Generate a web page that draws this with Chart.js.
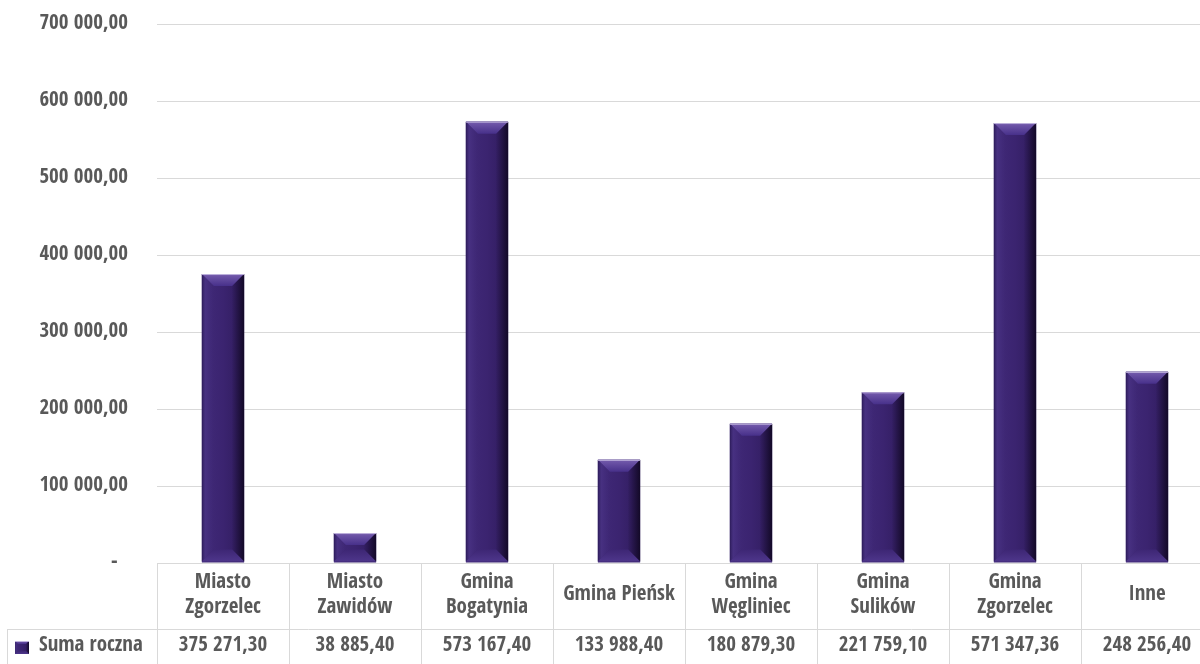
<!DOCTYPE html>
<html>
<head>
<meta charset="utf-8">
<script src="https://cdn.jsdelivr.net/npm/chart.js@4.4.1/dist/chart.umd.min.js"></script>
<style>
  html, body { margin: 0; padding: 0; background: #fff; overflow: hidden; }
  #wrap { position: relative; width: 1213px; height: 664px; }
</style>
</head>
<body>
<div id="wrap"><canvas id="chart"></canvas></div>
<script>
const categories = [
  ['Miasto', 'Zgorzelec'],
  ['Miasto', 'Zawidów'],
  ['Gmina', 'Bogatynia'],
  ['Gmina Pieńsk'],
  ['Gmina', 'Węgliniec'],
  ['Gmina', 'Sulików'],
  ['Gmina', 'Zgorzelec'],
  ['Inne']
];
const sumaRoczna = [375271.30, 38885.40, 573167.40, 133988.40, 180879.30, 221759.10, 571347.36, 248256.40];
const seriesName = 'Suma roczna';
const yTicks = [0, 100000, 200000, 300000, 400000, 500000, 600000, 700000];

const FONT = '"Open Sans Condensed", "Open Sans", sans-serif';
const TXT = '#595959';
const LINE = '#d9d9d9';
const BAR = '#3b2470';

const fmtPl = (v) => {
  const [i, d] = Number(v).toFixed(2).split('.');
  return i.replace(/\B(?=(\d{3})+(?!\d))/g, ' ') + ',' + d;
};

// bevelled face for a box (bars and the legend key)
function bevelBox(ctx, x0, x1, top, bottom, size) {
  const w = x1 - x0, h = bottom - top;
  const b = Math.min(size, w / 2, h / 2);
  const face = ctx.createLinearGradient(x0, 0, x1, 0);
  face.addColorStop(0, '#412a79');
  face.addColorStop(0.5, '#3b2470');
  face.addColorStop(1, '#2f1b5c');
  ctx.fillStyle = face;
  ctx.fillRect(x0, top, w, h);

  const poly = (pts, fill) => {
    ctx.beginPath();
    ctx.moveTo(pts[0][0], pts[0][1]);
    for (let k = 1; k < pts.length; k++) ctx.lineTo(pts[k][0], pts[k][1]);
    ctx.closePath();
    ctx.fillStyle = fill;
    ctx.fill();
  };
  const topG = ctx.createLinearGradient(0, top, 0, top + b);
  topG.addColorStop(0, '#755cad');
  topG.addColorStop(1, '#47308a');
  poly([[x0, top], [x1, top], [x1 - b, top + b], [x0 + b, top + b]], topG);
  const leftG = ctx.createLinearGradient(x0, 0, x0 + b, 0);
  leftG.addColorStop(0, 'rgba(40,24,84,0.9)');
  leftG.addColorStop(0.3, 'rgba(78,56,138,0.5)');
  leftG.addColorStop(1, 'rgba(70,48,130,0)');
  poly([[x0, top], [x0 + b, top + b], [x0 + b, bottom - b], [x0, bottom]], leftG);
  const rightG = ctx.createLinearGradient(x1, 0, x1 - b, 0);
  rightG.addColorStop(0, 'rgba(14,6,30,0.85)');
  rightG.addColorStop(1, 'rgba(20,10,40,0.05)');
  poly([[x1, top], [x1 - b, top + b], [x1 - b, bottom - b], [x1, bottom]], rightG);
  const botG = ctx.createLinearGradient(0, bottom - b, 0, bottom);
  botG.addColorStop(0, '#3d2674');
  botG.addColorStop(1, '#4e368b');
  poly([[x0, bottom], [x1, bottom], [x1 - b, bottom - b], [x0 + b, bottom - b]], botG);

  ctx.fillStyle = 'rgba(200,188,226,0.9)';
  ctx.fillRect(x0, top, w, 1);
}

const bevelPlugin = {
  id: 'bevel',
  afterDatasetsDraw(chart) {
    const ctx = chart.ctx;
    const meta = chart.getDatasetMeta(0);
    ctx.save();
    meta.data.forEach(bar => {
      const x0 = bar.x - bar.width / 2, x1 = bar.x + bar.width / 2;
      bevelBox(ctx, x0, x1, bar.y, bar.base - 1, 12);
    });
    ctx.restore();
  }
};

// data table under the plot: category row, value row and legend key
const tablePlugin = {
  id: 'dataTable',
  afterDraw(chart) {
    const ctx = chart.ctx;
    const xs = chart.scales.x;
    const area = chart.chartArea;
    const n = categories.length;
    const cw = (area.right - area.left) / n;
    const top = area.bottom;
    const rowY = top + 66;
    const bottom = chart.height + 2;

    ctx.save();
    ctx.strokeStyle = LINE;
    ctx.lineWidth = 1;
    ctx.beginPath();
    ctx.moveTo(area.left, top + 0.5); ctx.lineTo(area.right, top + 0.5);
    ctx.moveTo(7, rowY + 0.5); ctx.lineTo(area.right, rowY + 0.5);
    ctx.moveTo(7.5, rowY); ctx.lineTo(7.5, bottom);
    for (let i = 0; i <= n; i++) {
      const bx = Math.round(area.left + i * cw) + 0.5;
      ctx.moveTo(bx, top); ctx.lineTo(bx, bottom);
    }
    ctx.stroke();

    ctx.fillStyle = TXT;
    ctx.font = 'bold 21px ' + FONT;
    ctx.textAlign = 'center';
    ctx.textBaseline = 'middle';
    categories.forEach((lines, i) => {
      const cx = xs.getPixelForValue(i);
      const lh = 25;
      const y0 = top + 32 - (lines.length - 1) * lh / 2;
      lines.forEach((t, j) => ctx.fillText(t, cx, y0 + j * lh));
      ctx.fillText(fmtPl(sumaRoczna[i]), cx, rowY + 17);
    });

    bevelBox(ctx, 15, 29, 641, 654, 3);
    ctx.fillStyle = TXT;
    ctx.textAlign = 'left';
    ctx.fillText(seriesName, 39, rowY + 17);
    ctx.restore();
  }
};

new Chart(document.getElementById('chart'), {
  type: 'bar',
  data: {
    labels: categories,
    datasets: [{
      label: seriesName,
      data: sumaRoczna,
      backgroundColor: BAR,
      borderWidth: 0,
      barPercentage: 0.32,
      categoryPercentage: 1
    }]
  },
  options: {
    responsive: true,
    maintainAspectRatio: false,
    animation: false,
    layout: { padding: { top: 24, right: 0, bottom: 0, left: 0 } },
    plugins: { legend: { display: false }, tooltip: { enabled: false } },
    scales: {
      x: {
        grid: { display: false },
        border: { display: false },
        ticks: { display: false },
        afterFit(scale) { scale.height = 101; }
      },
      y: {
        min: 0,
        max: 700000,
        afterBuildTicks(scale) { scale.ticks = yTicks.map(v => ({ value: v })); },
        grid: { color: LINE, lineWidth: 1, drawTicks: false },
        border: { display: false },
        ticks: {
          padding: 29,
          color: TXT,
          font: { family: FONT, size: 21, weight: 'bold' },
          callback: (v) => v === 0 ? '-  ' : fmtPl(v)
        },
        afterFit(scale) {
          scale.width = 157;
          scale.paddingTop = 0;
          scale.paddingBottom = 0;
        }
      }
    }
  },
  plugins: [bevelPlugin, tablePlugin]
});
</script>
</body>
</html>
